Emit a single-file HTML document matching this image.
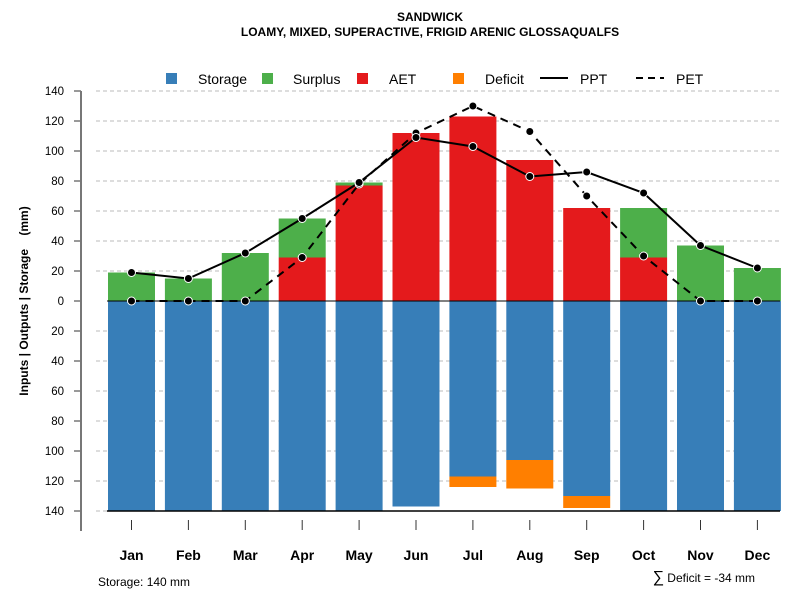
<!DOCTYPE html>
<html><head><meta charset="utf-8"><style>
body{margin:0;background:#fff;font-family:"Liberation Sans",sans-serif}
svg text{font-family:"Liberation Sans",sans-serif}
</style></head><body>
<svg id="c" width="800" height="600">
<text x="430" y="21" text-anchor="middle" font-size="12" font-weight="bold">SANDWICK</text>
<text x="430" y="36" text-anchor="middle" font-size="12" font-weight="bold">LOAMY, MIXED, SUPERACTIVE, FRIGID ARENIC GLOSSAQUALFS</text>
<g id="legend">
<rect x="166" y="73" width="11" height="11" fill="#377eb8"/>
<text x="198" y="84" font-size="14">Storage</text>
<rect x="262" y="73" width="11" height="11" fill="#4daf4a"/>
<text x="293" y="84" font-size="14">Surplus</text>
<rect x="357" y="73" width="11" height="11" fill="#e41a1c"/>
<text x="389" y="84" font-size="14">AET</text>
<rect x="453" y="73" width="11" height="11" fill="#ff7f00"/>
<text x="485" y="84" font-size="14">Deficit</text>
<line x1="540" y1="78" x2="568" y2="78" stroke="#000" stroke-width="2"/>
<text x="580" y="84" font-size="14">PPT</text>
<line x1="636" y1="78" x2="664" y2="78" stroke="#000" stroke-width="2" stroke-dasharray="7,5"/>
<text x="676" y="84" font-size="14">PET</text>
</g>
<text transform="translate(28,301) rotate(-90)" text-anchor="middle" font-size="12" font-weight="bold">Inputs | Outputs | Storage &#160;&#160;&#160;(mm)</text>
<text x="98" y="586" font-size="12">Storage: 140 mm</text>
<text x="755" y="582" text-anchor="end" font-size="12"><tspan font-size="16">∑</tspan> Deficit = -34 mm</text>
</svg>
<script>
const months=["Jan","Feb","Mar","Apr","May","Jun","Jul","Aug","Sep","Oct","Nov","Dec"];
const aet=[0,0,0,29,77,112,123,94,62,29,0,0];
const surplus=[19,15,32,26,2,0,0,0,0,33,37,22];
const storage=[140,140,140,140,140,137,117,106,130,140,140,140];
const deficit=[0,0,0,0,0,0,7,19,8,0,0,0];
const ppt=[19,15,32,55,79,109,103,83,86,72,37,22];
const pet=[0,0,0,29,78,112,130,113,70,30,0,0];
const yTicks=[140,120,100,80,60,40,20,0,20,40,60,80,100,120,140];
const yVals=[140,120,100,80,60,40,20,0,-20,-40,-60,-80,-100,-120,-140];
const svg=document.getElementById('c');const NS="http://www.w3.org/2000/svg";
const y=v=>301-v*1.5, xc=i=>131.5+i*56.9, bw=47;
function mk(t,a,p){const e=document.createElementNS(NS,t);for(const k in a)e.setAttribute(k,a[k]);(p||svg).appendChild(e);return e;}
yVals.forEach((v,i)=>{
 if(v!==0){const g=mk('line',{x1:96,x2:780,y1:y(v),y2:y(v),stroke:'#bbb','stroke-dasharray':'4,3'});
 
 }
 const t=mk('line',{x1:74,x2:81,y1:y(v),y2:y(v),stroke:'#333'});
 
 
 const l=mk('text',{x:64,y:y(v)+4,'text-anchor':'end','font-size':11.5});l.textContent=yTicks[i];
 
 
});
const ax=mk('line',{x1:81,x2:81,y1:91,y2:531,stroke:'#777','stroke-width':2});


months.forEach((m,i)=>{
 const x0=xc(i)-bw/2;
 const s=mk('rect',{x:x0,y:y(0),width:bw,height:storage[i]*1.5,fill:'#377eb8'});
 
 
 const d=mk('rect',{x:x0,y:y(-storage[i]),width:bw,height:deficit[i]*1.5,fill:'#ff7f00'});
 
 
 const a=mk('rect',{x:x0,y:y(aet[i]),width:bw,height:aet[i]*1.5,fill:'#e41a1c'});
 
 
 const su=mk('rect',{x:x0,y:y(aet[i]+surplus[i]),width:bw,height:surplus[i]*1.5,fill:'#4daf4a'});
 
 
 const t=mk('line',{x1:xc(i),x2:xc(i),y1:520,y2:530,stroke:'#333'});
 
 
 const l=mk('text',{x:xc(i),y:560,'text-anchor':'middle','font-size':14,'font-weight':'bold'});l.textContent=m;
 
 
});
const z=mk('line',{x1:107,x2:780,y1:301,y2:301,stroke:'#000'});


const b=mk('line',{x1:107,x2:780,y1:511,y2:511,stroke:'#000','stroke-width':1.5});


const petL=mk('polyline',{points:pet.map((v,i)=>xc(i)+','+y(v)).join(' '),fill:'none',stroke:'#000','stroke-width':2,'stroke-dasharray':'8,6'});


const pptL=mk('polyline',{points:ppt.map((v,i)=>xc(i)+','+y(v)).join(' '),fill:'none',stroke:'#000','stroke-width':2});


[pet,ppt].forEach((arr,k)=>arr.forEach((v,i)=>{
 const c=mk('circle',{cx:xc(i),cy:y(v),r:4,fill:'#000',stroke:'#fff','stroke-width':1});
 
 
}));
</script>
</body></html>
